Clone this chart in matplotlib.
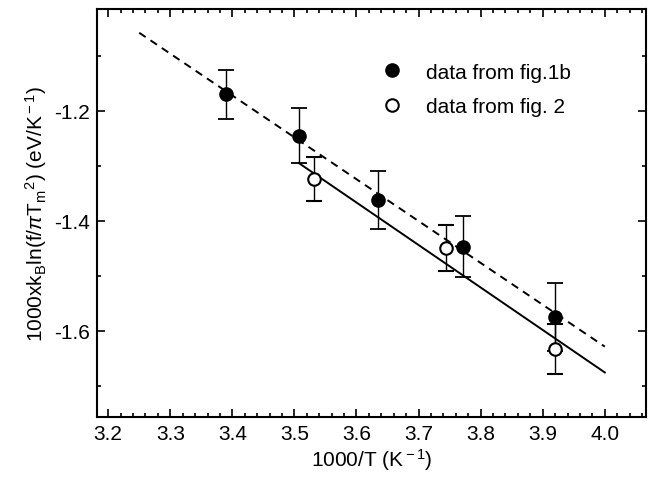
import matplotlib
matplotlib.use('Agg')
import numpy as np
import matplotlib.pyplot as plt
from matplotlib.ticker import MultipleLocator

plt.rcParams['font.family'] = ['Liberation Sans', 'DejaVu Sans']
plt.rcParams['mathtext.fontset'] = 'custom'
plt.rcParams['mathtext.rm'] = 'Liberation Sans'
plt.rcParams['mathtext.it'] = 'Liberation Sans:italic'

# data from fig. 1b (filled)
x_fill = [3.39, 3.507, 3.635, 3.771, 3.919]
y_fill = [-1.170, -1.245, -1.362, -1.447, -1.575]
e_fill = [0.045, 0.050, 0.053, 0.055, 0.062]

# data from fig. 2 (open)
x_open = [3.532, 3.744, 3.919]
y_open = [-1.324, -1.449, -1.633]
e_open = [0.040, 0.042, 0.045]

# fitted lines (end points)
dash_x = [3.25, 4.0]
dash_y = [-1.058, -1.629]
solid_x = [3.507, 4.0]
solid_y = [-1.295, -1.676]

fs = 15

fig = plt.figure(figsize=(6.51, 4.81), dpi=100)
ax = fig.add_axes([0.149, 0.131, 0.843, 0.848])

ax.plot(dash_x, dash_y, color='k', lw=1.4, ls=(0, (4, 3)))
ax.plot(solid_x, solid_y, color='k', lw=1.4)

ax.errorbar(x_fill, y_fill, yerr=e_fill, fmt='o', color='k', ms=9.5,
            mfc='k', mec='k', elinewidth=1.0, capsize=6, capthick=1.3,
            label='data from fig.1b', zorder=3)
ax.errorbar(x_open, y_open, yerr=e_open, fmt='o', color='k', ms=9,
            mfc='white', mec='k', mew=1.5, elinewidth=1.0, capsize=6, capthick=1.3,
            label='data from fig. 2', zorder=4)

ax.set_xlim(3.182, 4.066)
ax.set_ylim(-1.757, -1.015)
ax.xaxis.set_major_locator(MultipleLocator(0.1))
ax.xaxis.set_minor_locator(MultipleLocator(0.02))
ax.yaxis.set_major_locator(MultipleLocator(0.2))
ax.yaxis.set_minor_locator(MultipleLocator(0.1))
ax.xaxis.set_major_formatter(plt.FormatStrFormatter('%.1f'))
ax.yaxis.set_major_formatter(plt.FormatStrFormatter('%.1f'))
ax.tick_params(which='both', direction='in', top=True, right=True, labelsize=fs, width=1.2)
ax.tick_params(which='major', length=6, pad=5)
ax.tick_params(which='minor', length=3)
for s in ax.spines.values():
    s.set_linewidth(1.5)

ax.set_xlabel('1000/T (K$^{\\rm -1}$)', fontsize=fs, labelpad=2)
ax.set_ylabel('1000xk$_{\\rm B}$ln(f/$\\pi$T$_{\\rm m}$$^{\\rm 2}$) (eV/K$^{\\rm -1}$)',
              fontsize=fs, labelpad=4)

handles, labels = ax.get_legend_handles_labels()
handles = [h[0] for h in handles]
ax.legend(handles, labels, loc='upper left', bbox_to_anchor=(0.485, 0.915),
          frameon=False, fontsize=fs, handletextpad=1.1, labelspacing=0.75,
          handlelength=1.0)

fig.savefig('out.png', dpi=100)
